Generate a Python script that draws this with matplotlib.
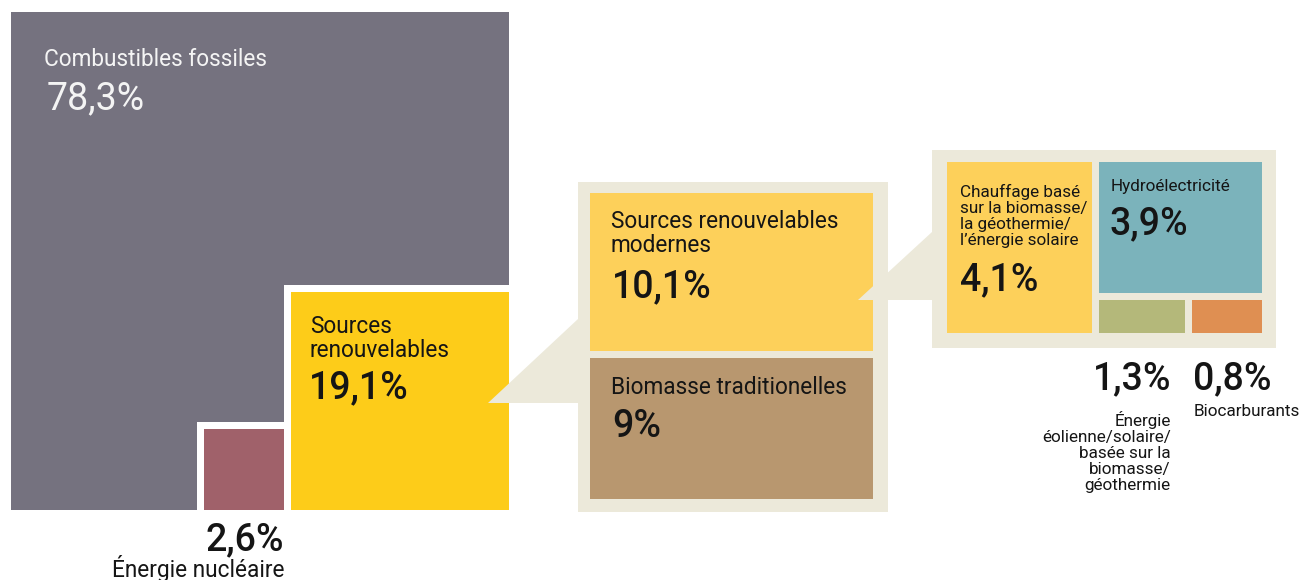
import matplotlib
matplotlib.use("Agg")
import matplotlib.pyplot as plt
from matplotlib.patches import Rectangle, Polygon
import numpy as np

# ---------------- data ----------------
top_labels = ["Combustibles fossiles", "Sources\nrenouvelables", "Énergie nucléaire"]
top_values = [78.3, 19.1, 2.6]

renew_labels = ["Sources renouvelables\nmodernes", "Biomasse traditionelles"]
renew_values = [10.1, 9.0]

modern_labels = ["Chauffage basé\nsur la biomasse/\nla géothermie/\nl’énergie solaire",
                 "Hydroélectricité",
                 "Énergie\néolienne/solaire/\nbasée sur la\nbiomasse/\ngéothermie",
                 "Biocarburants"]
modern_values = [4.1, 3.9, 1.3, 0.8]

# ---------------- styles ----------------
C_FOSSIL = "#75727f"
C_RENEW = "#fdcc19"
C_NUC = "#a0616a"
C_FRAME = "#ece9da"
C_MODERN = "#fdd05a"
C_TRAD = "#b8976f"
C_HYDRO = "#7bb3bb"
C_WIND = "#b4b87a"
C_BIO = "#df8f52"
C_TEXT = "#151515"
FONT = ["Roboto", "DejaVu Sans"]
LBL = 16.3
NUM = 27
SMALL = 12.3


def fmt(v):
    return f"{v:g}".replace(".", ",") + "%"


fig = plt.figure(figsize=(13.05, 5.8), dpi=100)
ax = fig.add_axes([0, 0, 1, 1])
ax.set_xlim(0, 1305)
ax.set_ylim(580, 0)
ax.axis("off")


def box(x, y, w, h, c, z=1):
    ax.add_patch(Rectangle((x, y), w, h, facecolor=c, edgecolor="none", zorder=z))


def txt(x, y, s, size, color=C_TEXT, weight="normal", ha="left", ls=1.2):
    ax.text(x, y, s, fontsize=size, color=color, fontweight=weight, ha=ha,
            va="baseline", family=FONT, linespacing=ls, zorder=10)


# ---------------- panel 1 : total energy ----------------
P1_X, P1_Y, P1_SIDE = 10.5, 11.5, 498.0
GAP = 7.0
total = sum(top_values)
side = lambda v: P1_SIDE * np.sqrt(v / total)
right = P1_X + P1_SIDE
bottom = P1_Y + P1_SIDE

box(P1_X, P1_Y, P1_SIDE, P1_SIDE, C_FOSSIL)
s_ren = side(top_values[1])
xr, yr = right - s_ren, bottom - s_ren
box(xr - GAP, yr - GAP, s_ren + GAP, s_ren + GAP, "white", 2)
box(xr, yr, s_ren, s_ren, C_RENEW, 3)
s_nuc = side(top_values[2])
xn, yn = xr - GAP - s_nuc, bottom - s_nuc
box(xn - GAP, yn - GAP, s_nuc + GAP, s_nuc + GAP, "white", 2)
box(xn, yn, s_nuc, s_nuc, C_NUC, 3)

txt(P1_X + 34, 66, top_labels[0], LBL, color="#f4f4f4")
txt(P1_X + 36, 109, fmt(top_values[0]), NUM, color="#f4f4f4")
txt(xr + 19, 357, top_labels[1], LBL, ls=1.08)
txt(xr + 18, 398, fmt(top_values[1]), NUM, weight="medium")
txt(xn + s_nuc, 550, fmt(top_values[2]), NUM, weight="medium", ha="right")
txt(xn + s_nuc + 1, 577, top_labels[2], LBL, ha="right")

# ---------------- panel 2 : renewables ----------------
F2 = (578, 182, 310, 330)
I2 = (590, 193, 283, 306)
box(*F2, C_FRAME)
avail = I2[3] - GAP
rsum = sum(renew_values)
h_mod = avail * renew_values[0] / rsum
h_trad = avail * renew_values[1] / rsum
box(I2[0], I2[1], I2[2], h_mod, C_MODERN, 3)
y_trad = I2[1] + h_mod + GAP
box(I2[0], y_trad, I2[2], h_trad, C_TRAD, 3)
txt(I2[0] + 21, 252, renew_labels[0], LBL, ls=1.08)
txt(I2[0] + 22, 297, fmt(renew_values[0]), NUM, weight="medium")
txt(I2[0] + 21, y_trad + 36, renew_labels[1], LBL)
txt(I2[0] + 22, y_trad + 79, fmt(renew_values[1]), NUM, weight="medium")

# callout 1
ax.add_patch(Polygon([(488, 403), (F2[0], 319), (F2[0], 403)], closed=True,
                     facecolor=C_FRAME, edgecolor="none", zorder=4))

# ---------------- panel 3 : modern renewables ----------------
F3 = (932, 150, 344, 198)
I3 = (947, 162, 315, 171)
COL_FRAC, ROW_FRAC, SUB_FRAC = 0.47, 0.80, 0.55
box(*F3, C_FRAME)
w_heat = (I3[2] - GAP) * COL_FRAC
box(I3[0], I3[1], w_heat, I3[3], C_MODERN, 3)
xh = I3[0] + w_heat + GAP
w_right = I3[2] - w_heat - GAP
h_hydro = (I3[3] - GAP) * ROW_FRAC
box(xh, I3[1], w_right, h_hydro, C_HYDRO, 3)
ys = I3[1] + h_hydro + GAP
h_small = I3[3] - h_hydro - GAP
w_wind = (w_right - GAP) * SUB_FRAC
box(xh, ys, w_wind, h_small, C_WIND, 3)
xb = xh + w_wind + GAP
w_bio = w_right - w_wind - GAP
box(xb, ys, w_bio, h_small, C_BIO, 3)

txt(I3[0] + 13, 245, modern_labels[0], SMALL, ls=1.07)
txt(I3[0] + 13, 290, fmt(modern_values[0]), NUM, weight="medium")
txt(xh + 12, 191, modern_labels[1], SMALL)
txt(xh + 11, 234, fmt(modern_values[1]), NUM, weight="medium")
txt(xh + w_wind - 13, 389, fmt(modern_values[2]), NUM, weight="medium", ha="right")
txt(xh + w_wind - 14, 490, modern_labels[2], SMALL, ha="right", ls=1.08)
txt(xb + 1, 389, fmt(modern_values[3]), NUM, weight="medium")
txt(xb + 2, 416, modern_labels[3], SMALL)

# callout 2
ax.add_patch(Polygon([(858, 300), (F3[0], 232), (F3[0], 300)], closed=True,
                     facecolor=C_FRAME, edgecolor="none", zorder=4))

fig.savefig("out.png", dpi=100, facecolor="white")
